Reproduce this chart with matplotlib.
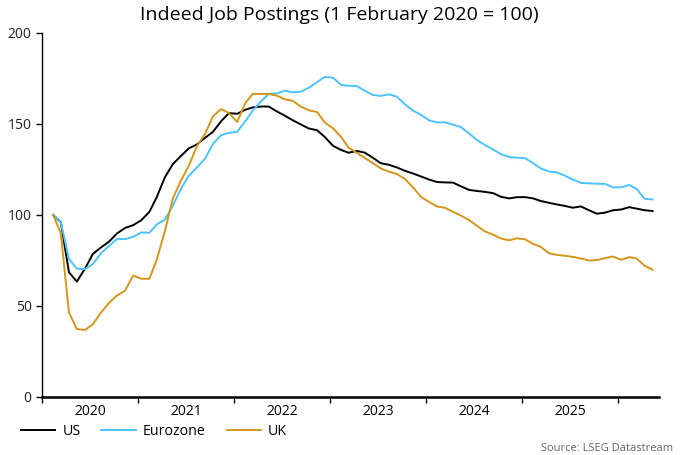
import pandas as pd
import matplotlib.pyplot as plt
import matplotlib.dates as mdates

plt.rcParams['font.family'] = ['Open Sans', 'DejaVu Sans']

# monthly dates, Feb 2020 onwards
dates = pd.date_range('2020-02-01', periods=76, freq='MS') + pd.Timedelta(days=11)

us = [100, 96, 68.5, 63.4, 70.5, 78.6, 82.2, 85.4, 89.9, 92.9,
      94.4, 97.1, 101.7, 109.8, 120.7, 127.9, 132.4, 136.6, 138.8, 142.4,
      145.7, 151.5, 156, 155.6, 157.8, 159.1, 159.6, 159.6, 156.9, 154.6,
      152, 149.7, 147.5, 146.6, 142.8, 138, 135.7, 134.2, 135.2, 134.3,
      131.5, 128.5, 127.6, 126.1, 124.3, 122.8, 121.2, 119.5, 118.1, 117.9,
      117.8, 115.8, 113.8, 113.2, 112.7, 112, 110, 109.1, 109.8, 109.8,
      109.1, 107.7, 106.7, 105.8, 105, 104, 104.7, 102.6, 100.7, 101.3,
      102.6, 103, 104.3, 103.5, 102.6, 102.2]

eurozone = [100, 96, 75.9, 70.5, 70.3, 73, 79, 83, 86.8, 86.8,
            88, 90.4, 90.2, 94.8, 97.5, 105, 114.3, 121.6, 126.1, 131,
            139.1, 143.9, 145.1, 145.7, 151.5, 157.3, 162.3, 166.5, 166.8, 168.3,
            167.4, 167.8, 169.9, 173, 175.9, 175.4, 171.4, 171, 170.9, 168.3,
            166, 165.4, 166.3, 165, 160.9, 157.3, 155.1, 152, 150.9, 150.9,
            149.7, 148.3, 144.9, 141.3, 138.4, 136, 133.4, 131.9, 131.5, 131.2,
            128.4, 125.6, 123.9, 123.4, 121.6, 119.5, 117.6, 117.4, 117.2, 117.1,
            115.2, 115.2, 116.5, 114.3, 108.9, 108.5]

uk = [100, 89.9, 46.4, 37.3, 36.8, 40, 46.4, 51.8, 55.8, 58.5,
      66.7, 65, 64.9, 75.4, 91, 109, 118.9, 127, 137.9, 144.6,
      154.2, 158.2, 156, 151.1, 161.4, 166.5, 166.5, 166.5, 165.6, 163.6,
      162.7, 159.5, 157.5, 156.6, 150.7, 147.6, 142.8, 137, 134.2, 131.4,
      128.5, 125.6, 123.8, 122.5, 119.8, 115.2, 110, 107.2, 104.7, 104,
      101.8, 99.7, 97.3, 94.1, 91, 89.2, 87.1, 86.1, 87.2, 86.6,
      84.1, 82.5, 79, 78.1, 77.6, 77, 76.1, 75, 75.2, 76.3,
      77.2, 75.4, 76.8, 76.1, 72.1, 69.9]

fig = plt.figure(figsize=(6.8, 4.55), dpi=100)
ax = fig.add_axes([0.062, 0.1275, 0.907, 0.80])

ax.plot(dates, us, color='black', lw=1.4, label='US')
ax.plot(dates, eurozone, color='#4cc3ff', lw=1.4, label='Eurozone')
ax.plot(dates, uk, color='#d4961a', lw=1.4, label='UK')

ax.set_ylim(0, 200)
ax.set_yticks([0, 50, 100, 150, 200])
ax.set_xlim(pd.Timestamp('2020-01-01'), pd.Timestamp('2026-06-05'))

# year boundaries as ticks, labels centred in between
ax.xaxis.set_major_locator(mdates.YearLocator())
ax.xaxis.set_major_formatter(plt.NullFormatter())
ax.xaxis.set_minor_locator(mdates.MonthLocator(bymonth=7))
ax.xaxis.set_minor_formatter(mdates.DateFormatter('%Y'))
ax.tick_params(axis='x', which='major', length=4, width=1, direction='out')
ax.tick_params(axis='x', which='minor', length=0, labelsize=10, pad=5)
ax.tick_params(axis='y', length=4, width=1, labelsize=10, labelcolor='#222222')

ax.spines['top'].set_visible(False)
ax.spines['right'].set_visible(False)
ax.spines['bottom'].set_linewidth(1.8)
ax.spines['left'].set_linewidth(1)

ax.set_title('Indeed Job Postings (1 February 2020 = 100)', fontsize=14, pad=9, x=0.481)

ax.legend(loc='upper left', bbox_to_anchor=(-0.055, -0.04), ncol=3, frameon=False,
          fontsize=10.3, handlelength=2.4, columnspacing=1.45, handletextpad=0.5)

fig.text(0.99, 0.003, 'Source: LSEG Datastream', ha='right', va='bottom',
         fontsize=8, color='#666666')

fig.savefig('out.png', dpi=100)
